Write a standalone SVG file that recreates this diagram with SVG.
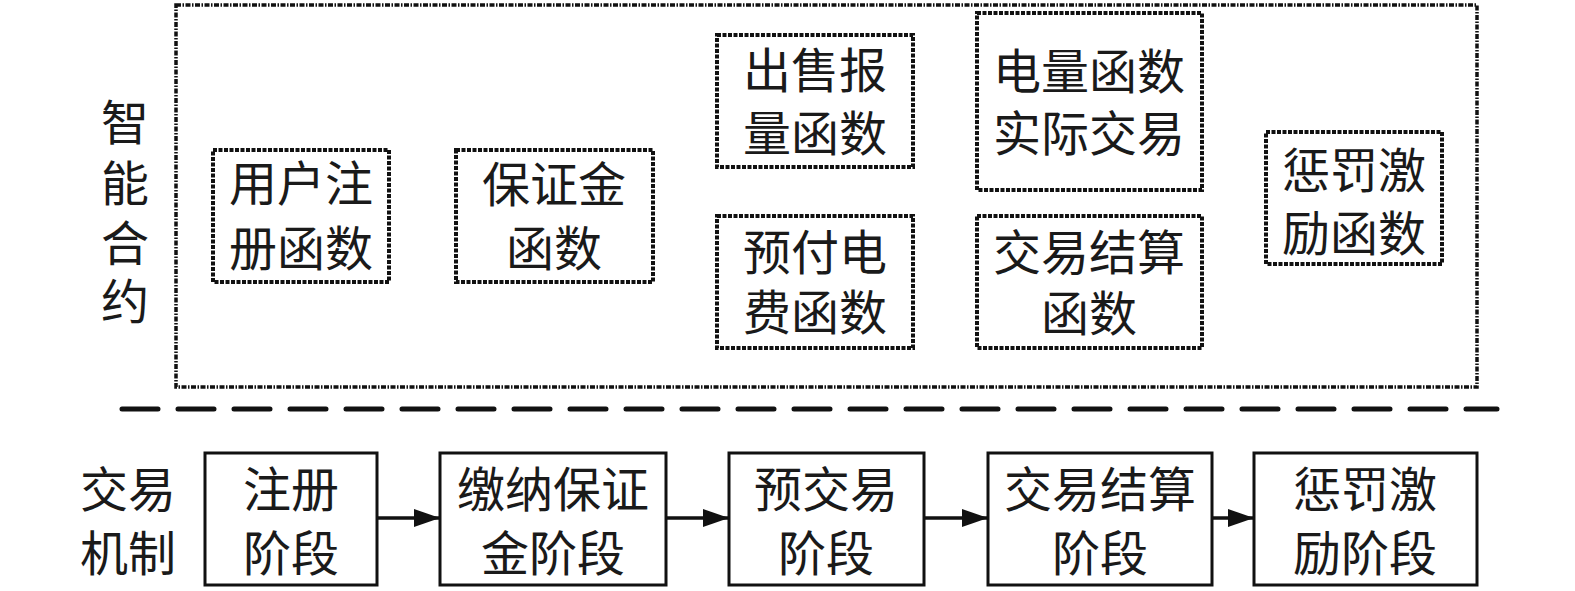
<svg xmlns="http://www.w3.org/2000/svg" width="1575" height="591" viewBox="0 0 1575 591">
<style>
.t{font-family:"Noto Sans CJK SC","Noto Sans CJK JP",sans-serif;font-size:48px;fill:#1a1a1a;text-anchor:middle}
.fn{fill:none;stroke:#111;stroke-width:4;stroke-dasharray:4 1.5}
.st{fill:#fff;stroke:#111;stroke-width:3}
.ln{stroke:#111;stroke-width:3.5;fill:none}
</style>
<defs>
<marker id="arr" viewBox="0 0 26 18" refX="26" refY="9" markerWidth="26" markerHeight="18" orient="auto" markerUnits="userSpaceOnUse">
<path d="M0,0 L26,9 L0,18 z" fill="#111"/>
</marker>
</defs>
<rect width="1575" height="591" fill="#fff"/>

<g id="contract-frame">
<rect x="176" y="5" width="1301" height="382" fill="none" stroke="#111" stroke-width="3.5" stroke-dasharray="5 1.5 1.5 1.5"/>
<text class="t" x="125" y="140">智</text>
<text class="t" x="125" y="201">能</text>
<text class="t" x="125" y="261">合</text>
<text class="t" x="125" y="319">约</text>
</g>

<g id="f-register">
<rect class="fn" x="213" y="150" width="176" height="132"/>
<text class="t" x="301" y="201">用户注</text>
<text class="t" x="301" y="266">册函数</text>
</g>
<g id="f-deposit">
<rect class="fn" x="456" y="150" width="197" height="132"/>
<text class="t" x="554" y="202">保证金</text>
<text class="t" x="554" y="266">函数</text>
</g>
<g id="f-sell">
<rect class="fn" x="717" y="35" width="196" height="132"/>
<text class="t" x="815" y="88">出售报</text>
<text class="t" x="815" y="151">量函数</text>
</g>
<g id="f-prepay">
<rect class="fn" x="717" y="216" width="196" height="132"/>
<text class="t" x="815" y="270">预付电</text>
<text class="t" x="815" y="330">费函数</text>
</g>
<g id="f-actual">
<rect class="fn" x="977" y="13" width="225" height="177"/>
<text class="t" x="1089" y="89">电量函数</text>
<text class="t" x="1089" y="151">实际交易</text>
</g>
<g id="f-settle">
<rect class="fn" x="977" y="216" width="225" height="132"/>
<text class="t" x="1089" y="270">交易结算</text>
<text class="t" x="1089" y="331">函数</text>
</g>
<g id="f-penalty">
<rect class="fn" x="1266" y="132" width="176" height="132"/>
<text class="t" x="1354" y="188">惩罚激</text>
<text class="t" x="1354" y="251">励函数</text>
</g>

<g id="separator">
<line x1="122" y1="409" x2="1497" y2="409" stroke="#111" stroke-width="5" stroke-linecap="round" stroke-dasharray="36 20"/>
</g>

<g id="mechanism-label">
<text class="t" x="128" y="507">交易</text>
<text class="t" x="128" y="571">机制</text>
</g>

<g id="s-register">
<rect class="st" x="205" y="453" width="172" height="132"/>
<text class="t" x="291" y="507">注册</text>
<text class="t" x="291" y="571">阶段</text>
</g>
<g id="s-deposit">
<rect class="st" x="440" y="453" width="226" height="132"/>
<text class="t" x="553" y="507">缴纳保证</text>
<text class="t" x="553" y="571">金阶段</text>
</g>
<g id="s-pretrade">
<rect class="st" x="729" y="453" width="195" height="132"/>
<text class="t" x="826" y="507">预交易</text>
<text class="t" x="826" y="571">阶段</text>
</g>
<g id="s-settle">
<rect class="st" x="988" y="453" width="224" height="132"/>
<text class="t" x="1100" y="507">交易结算</text>
<text class="t" x="1100" y="571">阶段</text>
</g>
<g id="s-penalty">
<rect class="st" x="1254" y="453" width="223" height="132"/>
<text class="t" x="1365" y="507">惩罚激</text>
<text class="t" x="1365" y="571">励阶段</text>
</g>

<g id="connectors">
<line class="ln" x1="377" y1="518" x2="440" y2="518" marker-end="url(#arr)"/>
<line class="ln" x1="666" y1="518" x2="729" y2="518" marker-end="url(#arr)"/>
<line class="ln" x1="924" y1="518" x2="988" y2="518" marker-end="url(#arr)"/>
<line class="ln" x1="1212" y1="518" x2="1254" y2="518" marker-end="url(#arr)"/>
</g>
</svg>
